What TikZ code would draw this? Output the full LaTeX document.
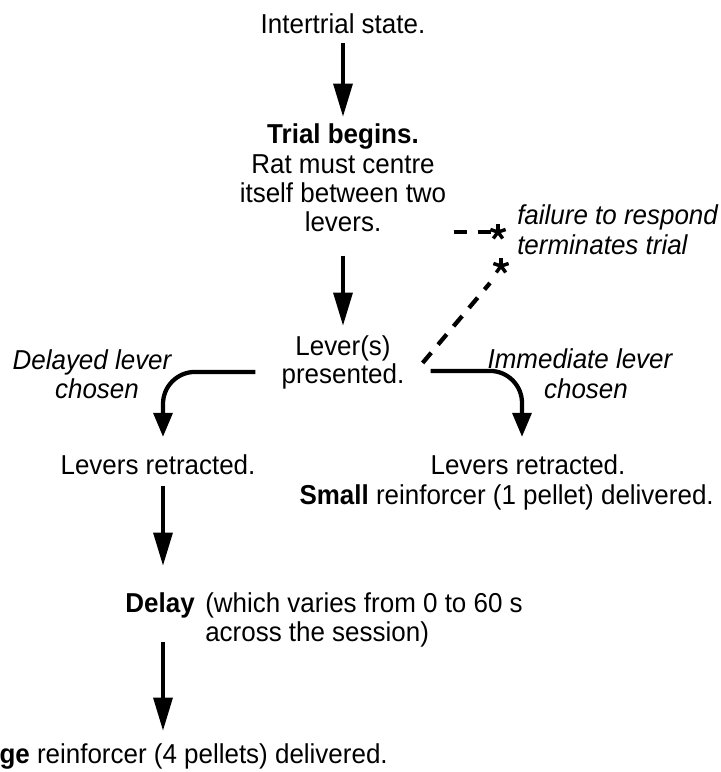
\documentclass[tikz,border=0pt]{standalone}
\usepackage{fontspec}
\setmainfont[FakeStretch=0.95]{Liberation Sans}
\usetikzlibrary{arrows.meta,calc}
\begin{document}
\begin{tikzpicture}[x=0.75pt,y=-0.75pt,
  txt/.style={inner sep=0pt, anchor=base, font=\fontsize{20.5}{24}\selectfont},
  txtl/.style={txt, anchor=base west},
  txtr/.style={txt, anchor=base east},
  arr/.style={line width=3.2pt, -{Triangle[width=14pt,length=25pt]}},
  carr/.style={line width=3.2pt, rounded corners=24pt, -{Triangle[width=14pt,length=18pt]}},
  dsh/.style={line width=3.2pt, dash pattern=on 10pt off 8pt},
  astline/.style={line width=2.6pt}]
\useasboundingbox (0,0) rectangle (721,772);
\clip (0,0) rectangle (721,772);

% centre column
\node[txt] (t0) at (343,33) {Intertrial state.};
\node[txt] (t1) at (343,143) {\textbf{Trial begins.}};
\node[txt] (t2) at (343,173) {Rat must centre};
\node[txt] (t3) at (343,202) {itself between two};
\node[txt] (t4) at (343,231) {levers.};
\node[txt] (p1) at (343,355) {Lever(s)};
\node[txt] (p2) at (343,383) {presented.};

% choice labels
\node[txt] (dl1) at (92,369) {\itshape Delayed lever};
\node[txt] (dl2) at (97,398) {\itshape chosen};
\node[txt] (il1) at (580,368) {\itshape Immediate lever};
\node[txt] (il2) at (586,398) {\itshape chosen};

% failure note
\node[txtl] (f1) at (517,224) {\itshape failure to respond};
\node[txtl] (f2) at (517,254) {\itshape terminates trial};

% outcomes
\node[txt] (rl) at (158,474) {Levers retracted.};
\node[txt] (rr) at (528,474) {Levers retracted.};
\node[txtr] (sm) at (714,504) {\textbf{Small} reinforcer (1 pellet) delivered.};
\node[txtr] (dy) at (195,612) {\textbf{Delay}};
\node[txtl] (w1) at (205,612) {(which varies from 0 to 60 s};
\node[txtl] (w2) at (205,641) {across the session)};
\node[txtr] (lg) at (388,763) {\textbf{Large} reinforcer (4 pellets) delivered.};

% asterisks
\coordinate (s1) at (498,232);
\coordinate (s2) at (501,266);
\foreach \c in {s1,s2}{
  \foreach \a in {270,342,54,126,198}{
    \draw[astline] (\c) -- ++(\a:8);
  }
}

% arrows
\draw[arr] ($(t0.south)+(0,9)$) -- ($(t1.north)+(0,-6)$);
\draw[arr] ($(t4.south)+(0,24)$) -- ($(p1.north)+(0,-9)$);
\draw[carr] ($(p2.west)+(-26,-4)$) -| ($(rl.north)+(5,-17)$);
\draw[carr] ($(p2.east)+(26,-5)$) -| ($(rr.north)+(-6,-17)$);
\draw[arr] ($(rl.south)+(5,11)$) -- ($(rl.south |- dy.north)+(5,-26)$);
\draw[arr] ($(rl.south |- dy.south)+(5,24)$) -- ($(rl.south |- lg.north)+(5,-12)$);

% dashed failure connectors
\draw[dsh] ($(t4.east |- s1)+(72,0)$) -- ($(s1)+(-6,0)$);
\draw[dsh] ($(p2.north east)+(18,0)$) -- ($(s2)+(-11,17)$);
\end{tikzpicture}
\end{document}
